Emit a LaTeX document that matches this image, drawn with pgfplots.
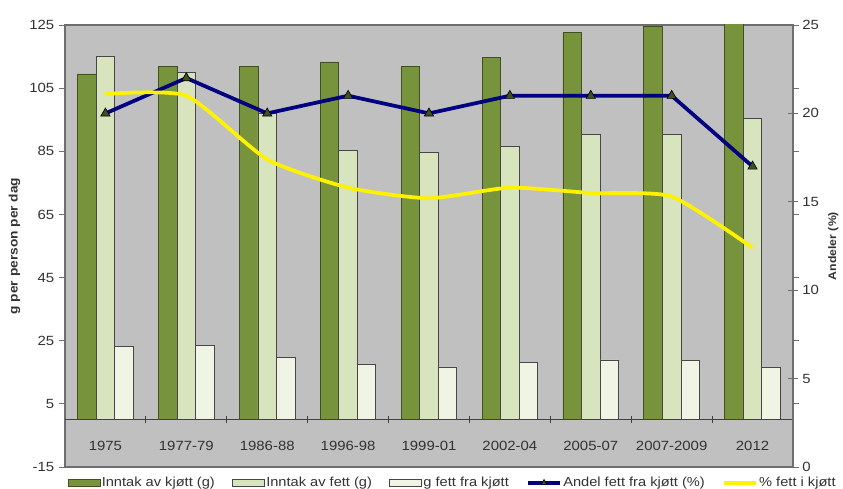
\documentclass[border=0pt]{standalone}
\usepackage{fontspec}
\setmainfont{Liberation Sans}[FakeStretch=1.12]
\usepackage{pgfplots}
\usepackage{pgfplotstable}
\pgfplotsset{compat=1.18}

\definecolor{bgGray}{RGB}{192,192,192}
\definecolor{darkG}{RGB}{119,147,60}
\definecolor{darkGedge}{RGB}{64,80,32}
\definecolor{lightG}{RGB}{215,228,189}
\definecolor{paleG}{RGB}{240,244,228}
\definecolor{navyB}{RGB}{0,0,128}
\definecolor{axGray}{RGB}{110,110,110}
\definecolor{barEdge}{RGB}{70,70,70}
\definecolor{legText}{RGB}{50,50,50}

\pgfplotsset{
  markleg/.style={legend image code/.code={\draw[##1, mark size=2.5pt, mark repeat=2, mark phase=2] plot coordinates {(0pt,0pt) (12pt,0pt) (24pt,0pt)};}},
  lineleg/.style={legend image code/.code={\draw[##1] (0pt,0pt) -- (24pt,0pt);}},
}

\pgfplotstableread{
x kjott fett fettkjott
0 109.5 115.2 23.1
1 112 110 23.6
2 112 97 19.7
3 113.3 85.2 17.6
4 112 84.8 16.7
5 114.6 86.5 18
6 122.5 90.2 18.9
7 124.4 90.2 18.7
8 128 95.5 16.4
}\bardata

\pgfplotstableread{
x andel pst
0 20 21.1
1 22 21
2 20 17.4
3 21 15.8
4 20 15.2
5 21 15.8
6 21 15.5
7 21 15.3
8 17 12.4
}\linedata

\begin{document}
\begin{tikzpicture}
\begin{axis}[
  scale only axis, width=546pt, height=331.5pt,
  xmin=-0.5, xmax=8.5, ymin=-15, ymax=125,
  axis background/.style={fill=bgGray},
  axis line style={axGray, line width=0.8pt},
  ytick={-15,5,...,125},
  xtick={0,...,8},
  xticklabels={1975,1977-79,1986-88,1996-98,1999-01,2002-04,2005-07,2007-2009,2012},
  xtick style={draw=none},
  xticklabel style={anchor=center, yshift=20.25pt, font=\fontsize{10}{12}\selectfont, text=legText},
  ytick style={axGray, line width=0.6pt},
  tick align=outside, major tick length=4.5pt,
  yticklabel style={font=\fontsize{10}{12}\selectfont, text=legText},
  /pgf/number format/assume math mode=true,
  ylabel={\textbf{g per person per dag}},
  ylabel style={font=\fontsize{9.2}{11}\selectfont, text=legText},
  ybar=0pt, bar width=0.229,
]
\addplot[fill=darkG, draw=darkGedge, line width=0.6pt] table[x=x,y=kjott]{\bardata};
\addplot[fill=lightG, draw=barEdge, line width=0.6pt] table[x=x,y=fett]{\bardata};
\addplot[fill=paleG, draw=barEdge, line width=0.6pt] table[x=x,y=fettkjott]{\bardata};
\draw[black!75, line width=0.9pt] (axis cs:-0.5,0) -- (axis cs:8.5,0);
\pgfplotsinvokeforeach{0.5,1.5,2.5,3.5,4.5,5.5,6.5,7.5}{
  \draw[black!75, line width=0.8pt] (axis cs:#1,-1.2) -- (axis cs:#1,1.2);
}
\end{axis}
\begin{axis}[
  scale only axis, width=546pt, height=331.5pt,
  xmin=-0.5, xmax=8.5, ymin=0, ymax=25,
  axis y line*=right, axis x line=none,
  ytick={0,5,...,25},
  axis line style={axGray, line width=0.8pt},
  ytick style={axGray, line width=0.6pt},
  tick align=center, major tick length=7pt,
  yticklabel style={font=\fontsize{10}{12}\selectfont, text=legText},
  /pgf/number format/assume math mode=true,
  ylabel={\textbf{Andeler (\%)}},
  ylabel style={font=\fontsize{8.2}{10}\selectfont, text=legText},
  legend columns=5,
  legend style={at={(0.532,-0.036)}, anchor=center, draw=none, fill=none,
    font=\fontsize{9.8}{10}\selectfont, text=legText, nodes={inner xsep=1pt},
    /tikz/every even column/.append style={column sep=12pt}},
]
\addlegendimage{legend image code/.code={\draw[fill=darkG, draw=darkGedge, line width=0.6pt] (0pt,-2.5pt) rectangle (24pt,2.5pt);}}
\addlegendentry{Inntak av kjøtt (g)}
\addlegendimage{legend image code/.code={\draw[fill=lightG, draw=barEdge, line width=0.6pt] (0pt,-2.5pt) rectangle (24pt,2.5pt);}}
\addlegendentry{Inntak av fett (g)}
\addlegendimage{legend image code/.code={\draw[fill=paleG, draw=barEdge, line width=0.6pt] (0pt,-2.5pt) rectangle (24pt,2.5pt);}}
\addlegendentry{g fett fra kjøtt}
\addplot[navyB, line width=2.8pt, mark=triangle*, mark size=4pt,
  mark options={fill=darkGedge, draw=black, line width=0.5pt}, markleg]
  table[x=x,y=andel]{\linedata};
\addlegendentry{Andel fett fra kjøtt (\%)}
\addplot[yellow, line width=2.8pt, smooth, tension=0.35, lineleg]
  table[x=x,y=pst]{\linedata};
\addlegendentry{\% fett i kjøtt}
\end{axis}
\pgfresetboundingbox
\path (-48.75pt,-16.5pt) rectangle (583.5pt,350.25pt);
\end{tikzpicture}
\end{document}
